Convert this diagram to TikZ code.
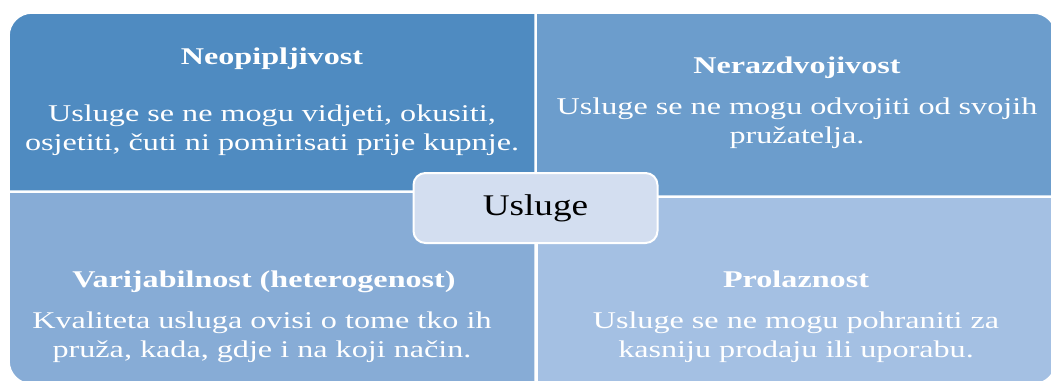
\documentclass[tikz,border=0pt]{standalone}
\usepackage{fontspec}
\setmainfont{Liberation Serif}
\newfontfamily\widefont[FakeStretch=1.34]{Liberation Serif}
\newfontfamily\hubfont[FakeStretch=1.24]{Liberation Serif}
\usepackage{tikz}
\definecolor{quadA}{HTML}{4F8BC1}
\definecolor{quadB}{HTML}{6C9DCC}
\definecolor{quadC}{HTML}{87ACD6}
\definecolor{quadD}{HTML}{A4C0E3}
\definecolor{hub}{HTML}{D3DEF0}
\tikzset{
  head/.style={anchor=base,text=white,font=\widefont\fontsize{24}{28}\selectfont\bfseries},
  body/.style={anchor=base,text=white,align=center,font=\widefont\fontsize{24}{28.5}\selectfont},
  quad/.style={draw=white,line width=1.5pt}
}
\begin{document}
\begin{tikzpicture}[x=1pt,y=-1pt]
\useasboundingbox (0,0) rectangle (1051,380);
\clip (0,0) rectangle (1051,380);
\def\R{23};
\fill[quadA,quad] (9,191)--(9,13+\R) arc (180:270:\R)--(535,13)--(535,191)--cycle;
\fill[quadB,quad] (536,196)--(536,13)--(1056-\R,13) arc (270:360:\R)--(1056,196)--cycle;
\fill[quadC,quad] (9,192)--(535,192)--(535,384)--(9+\R,384) arc (90:180:\R)--cycle;
\fill[quadD,quad] (537,197)--(1056,197)--(1056,384-\R) arc (0:90:\R)--(537,384)--cycle;
\node[head] (tA) at (272,64) {Neopipljivost};
\node[body] (bA) at (272,150) {Usluge se ne mogu vidjeti, okusiti,\\osjetiti, čuti ni pomirisati prije kupnje.};
\node[head] (tB) at (797,73) {Nerazdvojivost};
\node[body] (bB) at (797,143) {Usluge se ne mogu odvojiti od svojih\\pružatelja.};
\node[head] (tC) at (264,287) {Varijabilnost (heterogenost)};
\node[body] (bC) at (262,357) {Kvaliteta usluga ovisi o tome tko ih\\pruža, kada, gdje i na koji način.};
\node[head] (tD) at (796,287) {Prolaznost};
\node[body] (bD) at (796,357) {Usluge se ne mogu pohraniti za\\kasniju prodaju ili uporabu.};
\node[draw=white,line width=2pt,fill=hub,rounded corners=12pt,minimum width=244pt,minimum height=70pt,font=\hubfont\fontsize{30}{34}\selectfont] (hub) at (535.5,208) {Usluge};
\end{tikzpicture}
\end{document}
